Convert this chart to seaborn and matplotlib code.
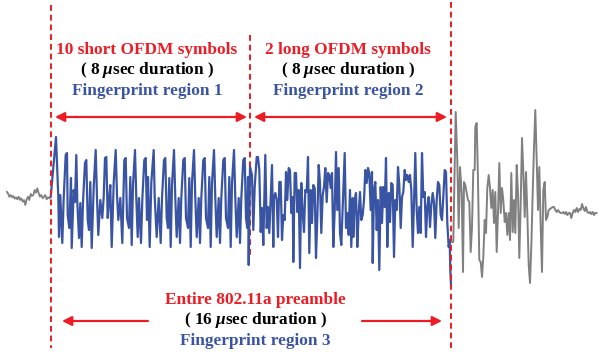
import matplotlib
matplotlib.use("Agg")
import matplotlib.pyplot as plt
import seaborn as sns

# waveform (x = position along the trace, y = level, screen units)
noise_x = [6.7, 8, 9.3, 10.7, 12, 13.3, 14.7, 16, 17.3, 18.7, 20, 21.3, 22.7, 24, 25.3, 26.7,
           28, 29.3, 30.7, 32, 33.3, 34.7, 36, 37.3, 38.7, 40, 41.3, 42.7, 44, 45.3, 46.7,
           48, 49.3, 50.7]
noise_y = [191.7, 193.3, 196.7, 195, 197.3, 196, 198.7, 197.3, 199.3, 196.7, 200, 198.3,
           201.7, 200, 205, 199.3, 196.7, 200, 194, 196, 195, 190, 192.7, 188.3, 193.3,
           196.7, 195, 198.3, 196.7, 195, 199.3, 197.3, 198.3, 196.7]

preamble_x = [50.7, 56, 58.3, 59, 60.3, 62.3, 63.7, 65.7, 67, 67.7, 69.3, 71, 71.7, 73.7, 75,
              76.3, 77.3, 79, 80.3, 81.7, 83, 85, 86.3, 87.7, 89, 90.3, 91.7, 93.7, 95.7, 97,
              98.3, 100.3, 102.3, 103.7, 105, 106.3, 107.7, 109, 110.3, 111.7, 113.7, 115.7,
              117, 118.3, 120.3, 122.3, 124.3, 125.7, 127, 129, 130.3, 131.7, 133, 135, 136.3,
              137.7, 139, 141, 142.3, 144.3, 145.7, 147,
              148, 149.7, 151.3, 153.7, 154.7, 156.7, 158.7, 160.7, 162, 164, 165.3, 166.7,
              168, 169.3, 170.7, 172, 174, 175.3, 176.7, 178.7, 180, 181.3, 183.3, 184.7, 186,
              188, 189.3, 190.7, 192, 194, 195.3, 196.7, 198.7, 200, 201.3, 203.3, 204.7, 206,
              208, 209.3, 210.7, 212, 214, 215.3, 216.7, 218.7, 220, 221.3, 223.3, 224.7, 226,
              228, 229.3, 230.7, 232, 234, 235.3, 236.7, 238.7, 240, 241.3, 243.3, 244.7, 246,
              247.3, 248, 248.7, 250,
              252, 253.3, 254.7, 256.7, 258, 259.3, 260.7, 262, 263.3, 265.3, 266.7, 268,
              269.3, 270.7, 272, 273.3, 274, 275.3, 276.7, 278, 279.3, 280.7, 282, 283.3,
              284.7, 286, 287.3, 288.7, 290, 291.3, 292.7, 293.3, 294.7, 296, 297.3, 298.7,
              300, 301.3, 302.7, 304, 305.3, 306.7, 308, 309.3, 310.7, 312, 313.3, 314.7, 316,
              317.3, 318.7, 320, 321.3, 322.7, 324, 325.3, 326.7, 328, 329.3, 330.7, 332,
              333.3, 334.7, 336, 337.3, 338.7, 340, 341.3, 342.7, 344.7, 346, 347.3, 348.7,
              350, 351.3, 352.7,
              353.3, 354.7, 356, 357.3, 358.7, 360, 361.3, 362.7, 364, 365.3, 366.7, 368,
              369.3, 370.7, 372, 372.7, 374, 375.3, 376.7, 378, 379.3, 380.7, 382, 383.3,
              384.7, 386, 387.3, 388.7, 390, 391.3, 392.7, 394, 395.3, 396.7, 398, 399.3,
              400.7, 402, 403.3, 404.7, 406, 407.3, 408.7, 410, 411.3, 412.7, 414, 415.3,
              416.7, 418, 419.3, 420.7, 422, 423.3, 424.7, 426, 427.3, 428.7, 430, 431.3,
              432.7, 434, 435.3, 436.7, 438, 439.3, 440.7, 442, 443.3, 444.7, 446, 447.3,
              448.7, 449.7, 450.3, 451]
preamble_y = [197, 137, 197, 237, 195, 243, 198, 155, 153, 215, 228, 178, 248, 190, 202, 155,
              202, 238, 203, 247, 202, 163, 160, 220, 230, 182, 248, 187, 150, 198, 235, 200,
              218, 197, 158, 157, 218, 200, 185, 247, 183, 150, 195, 220, 198, 243, 160, 158,
              218, 228, 177, 245, 185, 150, 198, 237, 198, 243, 200, 160, 158, 220,
              177, 247, 183, 150, 197, 237, 198, 243, 198, 160, 158, 218, 228, 178, 247, 185,
              150, 198, 237, 198, 243, 198, 160, 158, 218, 228, 178, 247, 183, 150, 198, 237,
              198, 243, 198, 160, 158, 218, 228, 177, 247, 183, 150, 198, 237, 198, 243, 198,
              160, 158, 218, 228, 177, 247, 183, 150, 198, 237, 198, 243, 198, 160, 158, 218,
              228, 177, 265, 167,
              175, 230, 187, 157, 157, 170, 232, 208, 245, 155, 228, 207, 233, 198, 165, 247,
              198, 193, 200, 237, 182, 182, 240, 215, 220, 172, 200, 168, 170, 213, 197, 262,
              173, 173, 212, 190, 268, 183, 213, 232, 190, 192, 157, 253, 190, 223, 185, 188,
              258, 218, 165, 183, 233, 195, 187, 168, 202, 173, 175, 188, 173, 247, 210, 152,
              210, 168, 233, 245, 208, 153, 228, 213, 235, 190, 247, 198,
              237, 200, 193, 247, 213, 192, 220, 215, 200, 170, 183, 168, 173, 210, 172, 263,
              190, 182, 230, 200, 270, 187, 223, 187, 207, 158, 247, 193, 222, 183, 185, 257,
              200, 210, 167, 185, 228, 197, 192, 170, 180, 175, 182, 175, 190, 247, 203, 153,
              210, 233, 207, 233, 153, 197, 192, 237, 207, 197, 227, 205, 193, 203, 238, 200,
              182, 185, 215, 220, 197, 170, 172, 223, 247, 240, 270, 285]

data_x = [451.7, 453.3, 455.7, 457.3, 458.7, 460, 461.7, 463, 464, 465.3, 466.7, 468, 469.3,
          470.7, 472, 473.3, 474.7, 475.3, 476.7, 478, 479.3, 480.7, 482, 483.3, 484.7, 486,
          487.3, 488.7, 490, 491.3, 492.7, 494, 495.3, 496.7, 498, 499.3, 500.7, 502, 503.3,
          504.7, 506, 507.3, 508.7, 510, 511.3, 512.7, 514, 515.3, 516.7, 518, 519.3, 520.7,
          522, 523.3, 524.7, 526, 527.3, 528.7, 530, 531.3, 532.7, 534, 535.3, 536.7, 538,
          539.3, 540.7, 542, 543.3, 544.7, 546, 547.3, 548.7, 550, 551.3, 552.7, 554, 555.3,
          556.7, 558, 559.3, 560.7, 562, 563.3, 564.7, 566, 567.3, 568.7, 570, 571.3, 572.7,
          574, 575.3, 576.7, 578, 579.3, 580.7, 582, 583.3, 584.7, 586, 587.3, 588.7, 590,
          591.3, 592.7, 594, 595.3, 596.7]
data_y = [242, 242, 112, 160, 228, 167, 193, 272, 182, 185, 193, 200, 202, 252, 227, 170, 170,
          127, 123, 180, 260, 262, 277, 257, 220, 233, 188, 175, 188, 208, 190, 223, 192, 252,
          212, 163, 213, 188, 200, 222, 213, 235, 213, 240, 173, 232, 200, 233, 165, 193, 258,
          203, 138, 172, 217, 172, 213, 265, 283, 247, 193, 147, 110, 160, 210, 167, 227, 272,
          190, 182, 220, 217, 210, 209, 208, 207, 207, 210, 212, 210, 212, 213, 213, 212, 214,
          212, 215, 213, 213, 218, 213, 210, 212, 208, 212, 209, 210, 204, 208, 211, 207, 212,
          213, 212, 214, 212, 215, 213, 213]

region_bounds = [51, 250, 451]
top_labels = [["10 short OFDM symbols", r"( 8 $\mu$sec duration )", "Fingerprint region 1"],
              ["2 long OFDM symbols", r"( 8 $\mu$sec duration )", "Fingerprint region 2"]]
bottom_label = ["Entire 802.11a preamble", r"( 16 $\mu$sec duration )", "Fingerprint region 3"]

RED = "#ec1c24"
BLUE = "#3a54a4"
GRAY = "#808080"

sns.set_style("white")
plt.rcParams["mathtext.fontset"] = "custom"
plt.rcParams["mathtext.it"] = "Liberation Serif:italic:bold"
plt.rcParams["mathtext.rm"] = "Liberation Serif:bold"

fig = plt.figure(figsize=(5.98, 3.56), dpi=100)
ax = fig.add_axes([0, 0, 1, 1])

sns.lineplot(x=noise_x, y=noise_y, ax=ax, color=GRAY, lw=1.3, estimator=None, sort=False)
sns.lineplot(x=data_x, y=data_y, ax=ax, color=GRAY, lw=1.4, estimator=None, sort=False)
sns.lineplot(x=preamble_x, y=preamble_y, ax=ax, color=BLUE, lw=1.6, estimator=None, sort=False)

# region boundaries
dash = (0, (3, 2))
ax.plot([region_bounds[0]] * 2, [5, 348], color=RED, lw=1.4, ls=dash, zorder=5)
ax.plot([region_bounds[1]] * 2, [35, 255], color=RED, lw=1.4, ls=dash, zorder=1)
ax.plot([region_bounds[2]] * 2, [2, 348], color=RED, lw=1.4, ls=dash, zorder=5)

# arrows
arrow = dict(color=RED, lw=1.6, mutation_scale=14, shrinkA=0, shrinkB=0)
ax.annotate("", xy=(55, 117), xytext=(247, 117), arrowprops=dict(arrowstyle="<|-|>", **arrow))
ax.annotate("", xy=(254, 117), xytext=(447, 117), arrowprops=dict(arrowstyle="<|-|>", **arrow))
ax.annotate("", xy=(62, 321), xytext=(148, 321), arrowprops=dict(arrowstyle="-|>", **arrow))
ax.annotate("", xy=(442, 321), xytext=(362, 321), arrowprops=dict(arrowstyle="-|>", **arrow))

font = dict(family="Liberation Serif", fontweight="bold", fontsize=12.4, ha="center", va="center")
colors = [RED, "black", BLUE]
for cx, lines in zip([147, 348], top_labels):
    for row, (txt, c) in enumerate(zip(lines, colors)):
        ax.text(cx, 50 + row * 20.5, txt, color=c, **font)
for row, (txt, c) in enumerate(zip(bottom_label, colors)):
    ax.text(255, 300 + row * 20.5, txt, color=c, **font)

ax.set_xlim(0, 598)
ax.set_ylim(356, 0)
ax.axis("off")

fig.savefig("out.png", dpi=100)
